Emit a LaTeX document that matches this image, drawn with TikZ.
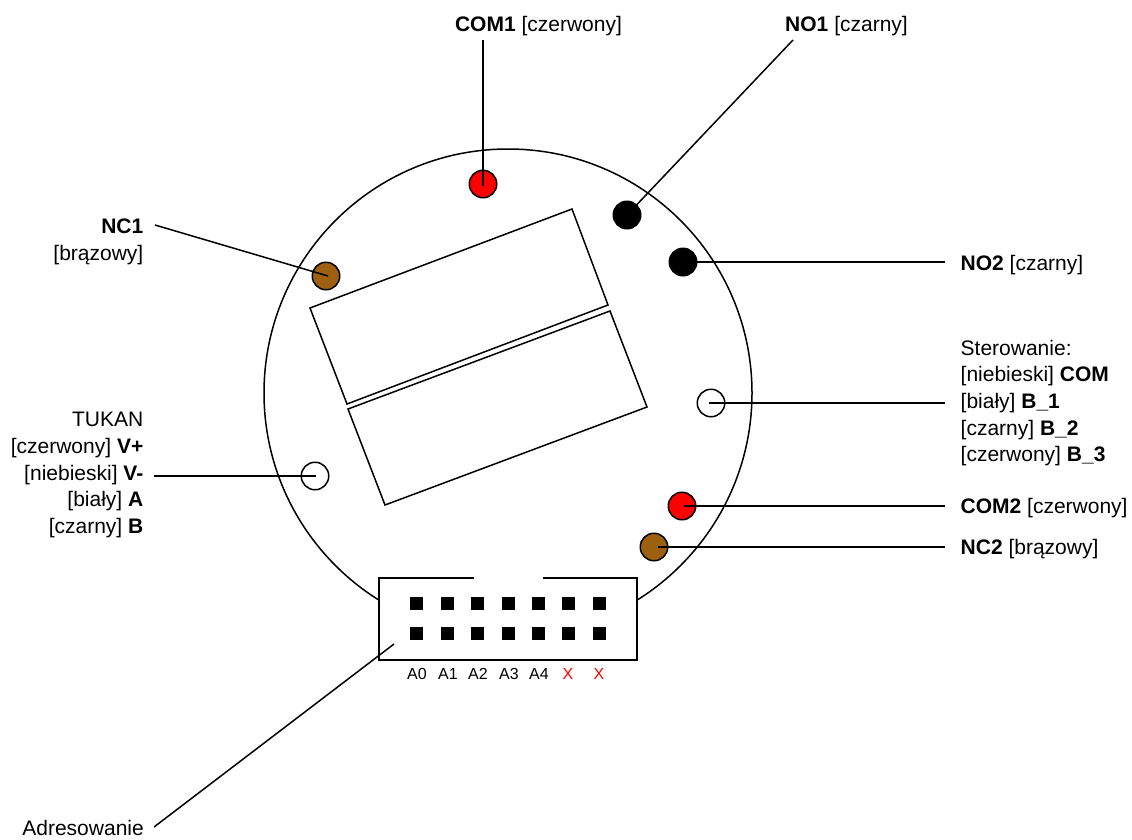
\documentclass[tikz,border=0pt]{standalone}
\usepackage{fontspec}
\setmainfont{Liberation Sans}
\definecolor{brownpin}{HTML}{9C6010}
\tikzset{
  outline/.style={draw=black,line width=1.5pt,line join=miter},
  lead/.style={draw=black,line width=1.5pt},
  pin/.style={circle,draw=black,line width=1.5pt,minimum size=27.5pt,inner sep=0pt},
  sq/.style={fill=black,draw=none,minimum size=13pt,inner sep=0pt},
  lab/.style={font=\fontsize{21pt}{26.7pt}\selectfont,inner sep=0pt},
  small/.style={font=\fontsize{16pt}{18pt}\selectfont,inner sep=0pt,anchor=base}
}
\begin{document}
\begin{tikzpicture}[x=1pt,y=-1pt]
\useasboundingbox (0,0) rectangle (1132,839);
% body
\draw[outline] (508,393) circle[radius=244];
\path[fill=white] (379,578) rectangle (637,660);
\draw[outline] (474,578) -- (379,578) -- (379,660) -- (637,660) -- (637,578) -- (543,578);
% relays
\draw[outline] (572,209) -- (608,305) -- (347,404) -- (310,308) -- cycle;
\draw[outline] (610,311) -- (647,407) -- (385,505) -- (348,409) -- cycle;
% free ends
\coordinate (ecom1) at (483,40);
\coordinate (eno1) at (793,40);
\coordinate (eno2) at (945,262);
\coordinate (enc1) at (155,225);
\coordinate (etuk) at (154,476);
\coordinate (ester) at (945,403);
\coordinate (ecom2) at (945,506);
\coordinate (enc2) at (945,547);
\coordinate (eadr) at (154,827);
\coordinate (tadr) at (394,644);
% pins
\node[pin,fill=red] (com1) at (483,184) {};
\node[pin,fill=black] (no1) at (627,215) {};
\node[pin,fill=black] (no2) at (683,262) {};
\node[pin,fill=brownpin] (nc1) at (326,276) {};
\node[pin] (tuk) at (315,476) {};
\node[pin] (ster) at (711,403) {};
\node[pin,fill=red] (com2) at (682,506) {};
\node[pin,fill=brownpin] (nc2) at (654,547) {};
% leads
\draw[lead] (ecom1) -- ([yshift=-2pt]com1.center);
\draw[lead] (eno1) -- (no1.center);
\draw[lead] (eno2) -- (no2.center);
\draw[lead] (enc1) -- ([shift={(2pt,0pt)}]nc1.center);
\draw[lead] (etuk) -- ([xshift=1pt]tuk.center);
\draw[lead] (ester) -- ([xshift=-2pt]ster.center);
\draw[lead] (ecom2) -- ([xshift=2pt]com2.center);
\draw[lead] (enc2) -- ([xshift=4pt]nc2.center);
\draw[lead] (eadr) -- (tadr);
% header pins
\foreach \n/\x in {0/416.5,1/447.5,2/477.5,3/508.5,4/538.5,5/568.5,6/599.5}{
  \node[sq] (u\n) at (\x,603.5) {};
  \node[sq] (d\n) at (\x,633.5) {};
}
\node[small] (a0) at (417,679) {A0};
\node[small] (a1) at (448,679) {A1};
\node[small] (a2) at (478,679) {A2};
\node[small] (a3) at (509,679) {A3};
\node[small] (a4) at (539,679) {A4};
\node[small,text=red] (x1) at (568,679) {X};
\node[small,text=red] (x2) at (599,679) {X};
% labels
\node[lab,anchor=base] (lcom1) at (538.5,31) {\textbf{COM1} [czerwony]};
\node[lab,anchor=base] (lno1) at (846.5,31) {\textbf{NO1} [czarny]};
\node[lab,anchor=base west] (lno2) at (960.5,270) {\textbf{NO2} [czarny]};
\node[lab,anchor=west,align=left] (lster) at (960.5,403) {Sterowanie:\\{}[niebieski] \textbf{COM}\\{}[biały] \textbf{B\_1}\\{}[czarny] \textbf{B\_2}\\{}[czerwony] \textbf{B\_3}};
\node[lab,anchor=base west] (lcom2) at (960.5,513) {\textbf{COM2} [czerwony]};
\node[lab,anchor=base west] (lnc2) at (960.5,554) {\textbf{NC2} [brązowy]};
\node[lab,anchor=east,align=right] (lnc1) at (143.5,242) {\textbf{NC1}\\{}[brązowy]};
\node[lab,anchor=east,align=right] (ltuk) at (143.5,475) {TUKAN\\{}[czerwony] \textbf{V+}\\{}[niebieski] \textbf{V-}\\{}[biały] \textbf{A}\\{}[czarny] \textbf{B}};
\node[lab,anchor=base east] (ladr) at (144,835) {Adresowanie};
\end{tikzpicture}
\end{document}
